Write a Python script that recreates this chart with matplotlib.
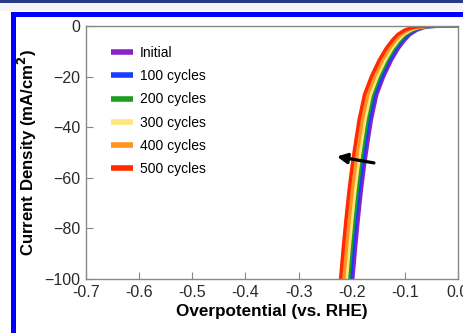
import matplotlib
matplotlib.use("Agg")
import matplotlib.pyplot as plt
from matplotlib.patches import Rectangle

plt.rcParams['font.family'] = ['Liberation Sans', 'DejaVu Sans']

current = [0, -0.05, -0.2, -0.7, -1.6, -3.3, -5.5, -8.8, -13.4, -20, -27.2, -37, -45, -55, -65, -77, -88, -100]
initial = [0.000, -0.030, -0.050, -0.065, -0.077, -0.090, -0.100, -0.112, -0.125, -0.140, -0.153, -0.163, -0.169, -0.176, -0.182, -0.188, -0.193, -0.198]
cyc100 = [0.000, -0.033, -0.053, -0.069, -0.081, -0.094, -0.104, -0.116, -0.129, -0.144, -0.157, -0.167, -0.173, -0.180, -0.186, -0.192, -0.197, -0.202]
cyc200 = [0.000, -0.036, -0.057, -0.073, -0.085, -0.098, -0.108, -0.120, -0.133, -0.148, -0.161, -0.171, -0.177, -0.184, -0.190, -0.196, -0.201, -0.206]
cyc300 = [0.000, -0.039, -0.061, -0.077, -0.089, -0.102, -0.112, -0.124, -0.137, -0.152, -0.165, -0.175, -0.181, -0.188, -0.194, -0.200, -0.205, -0.210]
cyc400 = [0.000, -0.043, -0.066, -0.082, -0.094, -0.107, -0.117, -0.129, -0.142, -0.157, -0.170, -0.180, -0.186, -0.193, -0.199, -0.205, -0.210, -0.215]
cyc500 = [0.000, -0.048, -0.072, -0.088, -0.100, -0.113, -0.123, -0.135, -0.148, -0.163, -0.176, -0.186, -0.192, -0.199, -0.205, -0.211, -0.216, -0.221]

labels = ["Initial", "100 cycles", "200 cycles", "300 cycles", "400 cycles", "500 cycles"]
series = [initial, cyc100, cyc200, cyc300, cyc400, cyc500]
colors = ["#8a22c8", "#1a3cff", "#1e9e1e", "#ffe680", "#ff9422", "#ff2a00"]

xticks = [-0.7, -0.6, -0.5, -0.4, -0.3, -0.2, -0.1, 0.0]
yticks = [0, -20, -40, -60, -80, -100]

W, H = 464, 333
fig = plt.figure(figsize=(W / 100, H / 100), dpi=100)
fig.patch.set_facecolor("white")

# decorative frame
fig.patches.append(Rectangle((0, 1 - 3 / H), 1, 3 / H, transform=fig.transFigure,
                             facecolor="#2b3a86", edgecolor="none", zorder=-5))
fig.patches.append(Rectangle((0, 1 - 11 / H), 1, 8 / H, transform=fig.transFigure,
                             facecolor="#f5f5f8", edgecolor="none", zorder=-5))
fig.patches.append(Rectangle((13.5 / W, -1.5 / H), (W + 20) / W, (H - 13.5 + 1.5) / H,
                             transform=fig.transFigure, facecolor="none",
                             edgecolor="#0000ff", linewidth=3.6, zorder=-5))

ax = fig.add_axes([86 / W, 1 - 279 / H, 372 / W, 253 / H])
ax.set_zorder(5)
ax.set_facecolor("white")

for xs, lab, col in zip(series, labels, colors):
    ax.plot(xs, current, color=col, lw=2.5, label=lab, solid_capstyle="butt")

ax.set_xlim(-0.7, 0.0)
ax.set_ylim(-100, 0)
ax.set_xticks(xticks)
ax.set_xticklabels([f"{v:.1f}" for v in xticks])
ax.set_yticks(yticks)
ax.tick_params(direction="in", length=5, width=0.8, color="#888888",
               labelsize=11.5, labelcolor="#2a2a2a", top=False, right=False, pad=4)
for s in ax.spines.values():
    s.set_color("#888888")
    s.set_linewidth(1.0)

ax.set_xlabel("Overpotential (vs. RHE)", fontsize=12.3, fontweight="bold", labelpad=3)
ax.set_ylabel("Current Density (mA/cm$^\\mathbf{2}$)", fontsize=12.1, fontweight="bold", labelpad=4)

ax.annotate("", xy=(-0.233, -51.4), xytext=(-0.153, -54.3),
            arrowprops=dict(arrowstyle="-|>", color="black", lw=2.3, mutation_scale=15))

leg = ax.legend(loc="upper left", bbox_to_anchor=(0.033, 0.97), frameon=False,
                fontsize=10, handlelength=1.6, handletextpad=0.5, labelspacing=0.66)
for h in leg.get_lines():
    h.set_linewidth(4)

fig.savefig("out.png", dpi=100, facecolor=fig.get_facecolor())
